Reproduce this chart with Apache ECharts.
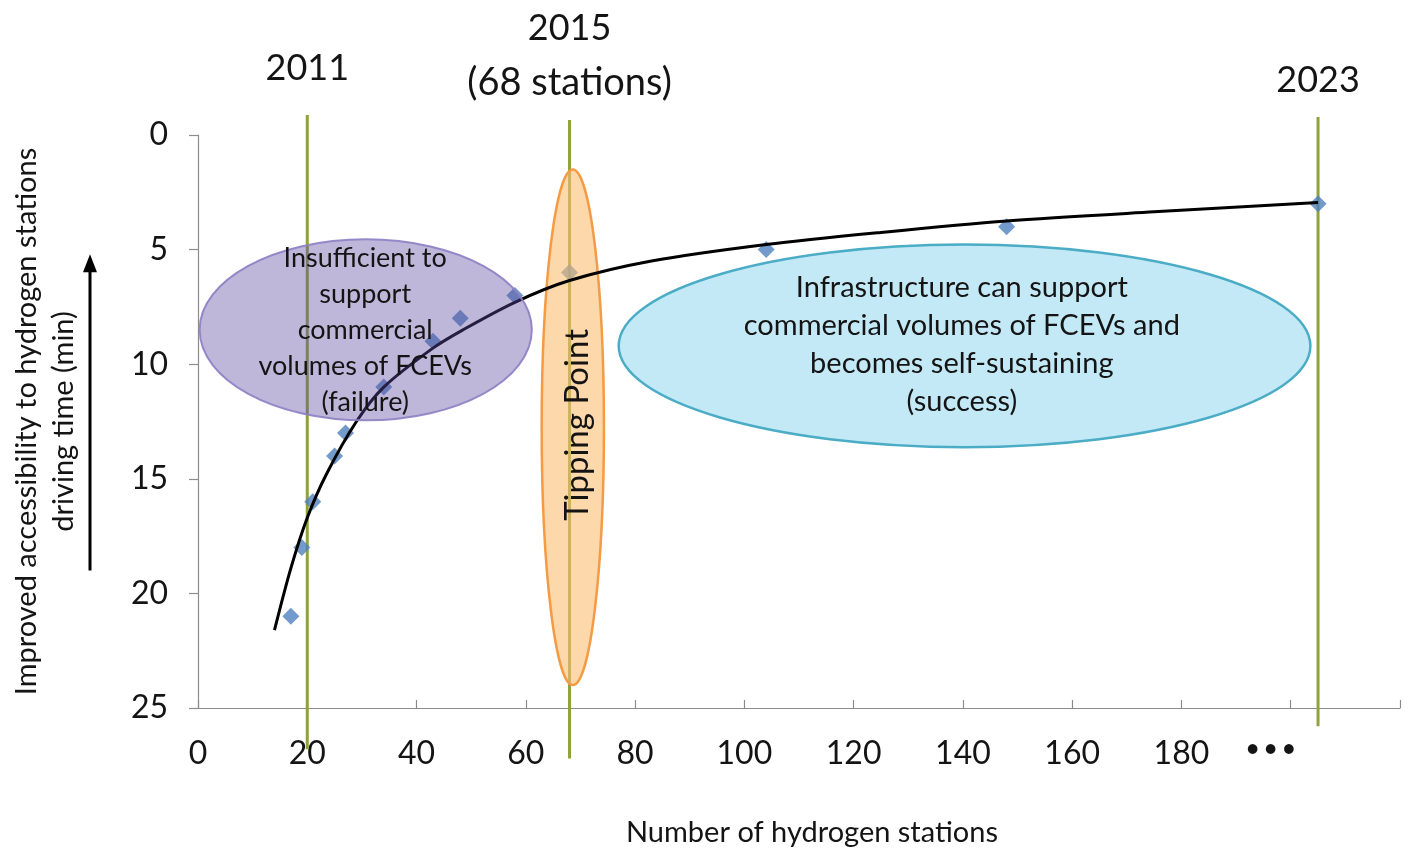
<!DOCTYPE html>
<html>
<head>
<meta charset="utf-8">
<script src="https://cdn.jsdelivr.net/npm/echarts@6/dist/echarts.min.js"></script>
<style>
  html, body { margin: 0; padding: 0; background: #ffffff; }
  #chart { width: 1408px; height: 848px; }
</style>
</head>
<body>
<div id="chart"></div>
<script>
// ---- Data ----
const stationCounts = [17, 19, 21, 25, 27, 34, 43, 48, 58, 68, 104, 148, 205];
const drivingTimes  = [21, 18, 16, 14, 13, 11, 9, 8, 7, 6, 5, 4, 3];

// trend curve
const trendX = [14, 17, 20, 23.5, 29, 34, 43, 48.5, 58, 68, 83, 104, 125, 148, 175, 205];
const trendY = [21.6, 18.9, 16.7, 14.8, 12.5, 11.0, 9.3, 8.5, 7.3, 6.35, 5.5, 4.78, 4.25, 3.75, 3.35, 2.95];

// milestone vertical lines
const milestoneX      = [20, 68, 205];
const milestoneTop    = [-0.87, -0.65, -0.78];
const milestoneBottom = [26.8, 27.2, 25.8];
const milestoneYears  = ['2011', '2015', '2023'];

// axis ticks
const xTickValues = [0, 20, 40, 60, 80, 100, 120, 140, 160, 180, 200, 220];
const xTickLabels = ['0', '20', '40', '60', '80', '100', '120', '140', '160', '180', '• • •', ''];
const yTickValues = [0, 5, 10, 15, 20, 25];

const FONT = 'Lato';
const TXT = '#141414';

const chart = echarts.init(document.getElementById('chart'), null, { renderer: 'canvas' });

const lineSeries = milestoneX.map((x, i) => ({
  type: 'line',
  z: 1,
  clip: false,
  silent: true,
  showSymbol: false,
  symbol: 'none',
  lineStyle: { color: '#8EA23E', width: 3 },
  data: [[x, milestoneTop[i]], [x, milestoneBottom[i]]]
}));

const option = {
  animation: false,
  backgroundColor: '#ffffff',
  grid: { left: 198, right: 8, top: 135, bottom: 140, containLabel: false, outerBoundsMode: 'none' },
  xAxis: {
    type: 'value',
    position: 'bottom',
    min: xTickValues[0],
    max: xTickValues[xTickValues.length - 1],
    interval: 20,
    name: 'Number of hydrogen stations',
    nameLocation: 'middle',
    nameGap: 110,
    nameTextStyle: { fontFamily: FONT, fontSize: 29, color: TXT, padding: [0, 0, 0, 26] },
    axisLine: { show: true, onZero: false, lineStyle: { color: '#8c8c8c', width: 1.2 } },
    axisTick: { show: true, inside: true, length: 8, lineStyle: { color: '#8c8c8c', width: 1.2 } },
    splitLine: { show: false },
    axisLabel: {
      margin: 30,
      fontFamily: FONT,
      fontSize: 32,
      color: TXT,
      formatter: function (v) {
        const idx = xTickValues.indexOf(v);
        const t = idx >= 0 ? xTickLabels[idx] : '';
        if (t.indexOf('•') >= 0) return '{d|' + t + '}';
        return t;
      },
      rich: {
        d: { fontFamily: FONT, fontSize: 22, fontWeight: 'bold', color: TXT, padding: [0, 40, 6, 0] }
      }
    }
  },
  yAxis: {
    type: 'value',
    inverse: true,
    min: yTickValues[0],
    max: yTickValues[yTickValues.length - 1],
    interval: 5,
    name: 'Improved accessibility to hydrogen stations\ndriving time (min)',
    nameLocation: 'middle',
    nameRotate: 90,
    nameGap: 116,
    nameTextStyle: { fontFamily: FONT, fontSize: 29, color: TXT, lineHeight: 37, align: 'center' },
    axisLine: { show: true, onZero: false, lineStyle: { color: '#8c8c8c', width: 1.2 } },
    axisTick: { show: true, inside: false, length: 9, lineStyle: { color: '#8c8c8c', width: 1.2 } },
    splitLine: { show: false },
    axisLabel: { margin: 30, fontFamily: FONT, fontSize: 32, color: TXT }
  },
  series: [
    ...lineSeries,
    {
      type: 'scatter',
      z: 2,
      symbol: 'diamond',
      symbolSize: [17, 17],
      itemStyle: { color: '#4F81BD' },
      data: stationCounts.map((x, i) => [x, drivingTimes[i]])
    },
    {
      type: 'line',
      z: 4,
      smooth: 0.3,
      showSymbol: false,
      symbol: 'none',
      clip: false,
      lineStyle: { color: '#000000', width: 3 },
      data: trendX.map((x, i) => [x, trendY[i]])
    }
  ]
};

chart.setOption(option);

// ---- Annotations placed in data coordinates ----
function px(x, y) { return chart.convertToPixel({ gridIndex: 0 }, [x, y]); }
const p0 = px(0, 0), p1 = px(1, 1);
const ux = p1[0] - p0[0];   // pixels per x unit
const uy = p1[1] - p0[1];   // pixels per y unit

function ellipse(cx, cy, rx, ry, fill, stroke, z, lw) {
  const c = px(cx, cy);
  return {
    type: 'ellipse', z: z, silent: true,
    shape: { cx: c[0], cy: c[1], rx: rx * ux, ry: ry * uy },
    style: { fill: fill, stroke: stroke, lineWidth: lw || 2.5 }
  };
}
function label(x, y, text, size, extra) {
  const c = px(x, y);
  return Object.assign({
    type: 'text', z: 7, silent: true,
    x: c[0], y: c[1],
    style: {
      text: text, fontFamily: FONT, fontSize: size, fill: TXT,
      align: 'center', verticalAlign: 'middle'
    }
  }, extra || {});
}

const graphics = [
  // orange sits under the trend line; purple sits over it
  ellipse(68.6, 12.75, 5.7, 11.25, 'rgba(250,190,113,0.6)', '#F59A45', 3),
  ellipse(30.7, 8.5, 30.4, 3.95, 'rgba(96,74,160,0.4)', 'rgba(140,128,196,0.9)', 5, 2),
  ellipse(140.3, 9.2, 63.3, 4.42, 'rgba(176,226,243,0.75)', '#4BACC6', 3),
  (function () {
    const g = label(30.6, 8.5, 'Insufficient to\nsupport\ncommercial\nvolumes of FCEVs\n(failure)', 27);
    g.style.lineHeight = 36;
    return g;
  })(),
  (function () {
    const g = label(139.8, 9.14, 'Infrastructure can support\ncommercial volumes of FCEVs and\nbecomes self-sustaining\n(success)', 29);
    g.style.lineHeight = 38;
    return g;
  })(),
  (function () {
    const c = px(69.4, 12.65);
    return {
      type: 'text', z: 7, silent: true, x: c[0], y: c[1], rotation: Math.PI / 2,
      style: { text: 'Tipping Point', fontFamily: FONT, fontSize: 33, fill: TXT, align: 'center', verticalAlign: 'middle' }
    };
  })(),
  label(milestoneX[0], -2.92, milestoneYears[0], 36),
  label(milestoneX[1], -4.67, milestoneYears[1], 36),
  label(milestoneX[1], -2.27, '(' + milestoneX[1] + ' stations)', 38),
  label(milestoneX[2], -2.4, milestoneYears[2], 36)
];

// vertical arrow beside the y-axis title
(function () {
  const top = px(0, 5.2), bot = px(0, 19.0);
  const ax = p0[0] - 108;
  graphics.push({
    type: 'line', z: 7, silent: true,
    shape: { x1: ax, y1: bot[1], x2: ax, y2: top[1] + 14 },
    style: { stroke: '#000', lineWidth: 3 }
  });
  graphics.push({
    type: 'polygon', z: 7, silent: true,
    shape: { points: [[ax, top[1]], [ax - 7, top[1] + 18], [ax + 7, top[1] + 18]] },
    style: { fill: '#000' }
  });
})();

chart.setOption({ graphic: graphics });
</script>
</body>
</html>
